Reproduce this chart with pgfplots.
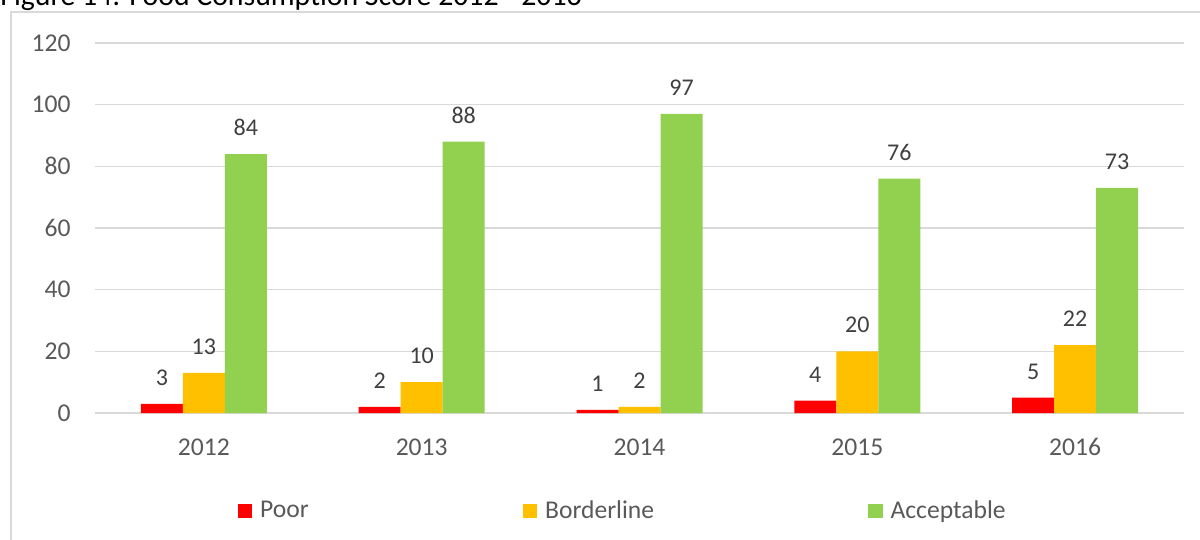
\documentclass[border=0pt]{standalone}
\usepackage{pgfplots}
\pgfplotsset{compat=1.18}
\usepackage{fontspec}
\setmainfont{Carlito}
\definecolor{cPoor}{HTML}{FF0000}
\definecolor{cBord}{HTML}{FFC000}
\definecolor{cAcc}{HTML}{92D050}
\definecolor{gridc}{HTML}{D9D9D9}
\definecolor{tickc}{HTML}{595959}
\definecolor{labc}{HTML}{404040}
\begin{document}
\begin{tikzpicture}
\useasboundingbox (0,0) rectangle (600bp,-270bp);
\clip (0,0) rectangle (600bp,-270bp);
\node[anchor=base west, inner sep=0pt, font=\fontsize{14.9bp}{17bp}\selectfont] at (0bp,-2.5bp) {Figure 14: Food Consumption Score 2012 - 2016};
\draw[gridc, line width=1.3bp] (5.5bp,-300bp) -- (5.5bp,-6bp) -- (700bp,-6bp);
\begin{axis}[
  at={(47.5bp,-206.5bp)}, anchor=south west,
  scale only axis, width=544.5bp, height=185bp,
  xmin=-0.5, xmax=4.5, ymin=0, ymax=120,
  xtick={0,1,2,3,4}, xticklabels={2012,2013,2014,2015,2016},
  ytick={0,20,40,60,80,100,120},
  /pgf/number format/assume math mode=true,
  axis line style={draw=none},
  major tick length=0pt,
  ymajorgrids, grid style={gridc, line width=0.8bp},
  tick label style={font=\fontsize{12.8bp}{15bp}\selectfont, text=tickc},
  yticklabel style={anchor=east, inner sep=0pt, xshift=-12bp},
  xticklabel style={anchor=north, inner sep=0pt, yshift=-12.5bp},
  ybar=0pt, bar width=21bp,
  clip=false,
  nodes near coords,
  nodes near coords style={font=\fontsize{12bp}{14bp}\selectfont, text=labc, anchor=south, inner sep=0pt, yshift=9bp},
  legend columns=3,
  legend style={at={(axis description cs:0.131,-0.265)}, anchor=west, draw=none, fill=none, inner sep=0pt, outer sep=0pt,
    font=\fontsize{12.8bp}{15bp}\selectfont, text=tickc,
    nodes={inner sep=0pt},
    /tikz/every even column/.append style={column sep=107bp},
    /tikz/every odd column/.append style={column sep=4bp}},
  legend cell align=left,
]
\addplot[fill=cPoor, draw=none, legend image code/.code={\fill[cPoor] (0bp,-3.6bp) rectangle (7.2bp,3.6bp);}]
  coordinates {(0,3) (1,2) (2,1) (3,4) (4,5)};
\addplot[fill=cBord, draw=none, legend image code/.code={\fill[cBord] (0bp,-3.6bp) rectangle (7.2bp,3.6bp);}]
  coordinates {(0,13) (1,10) (2,2) (3,20) (4,22)};
\addplot[fill=cAcc, draw=none, legend image code/.code={\fill[cAcc] (0bp,-3.6bp) rectangle (7.2bp,3.6bp);}]
  coordinates {(0,84) (1,88) (2,97) (3,76) (4,73)};
\legend{Poor,Borderline,Acceptable}
\end{axis}
\end{tikzpicture}
\end{document}
